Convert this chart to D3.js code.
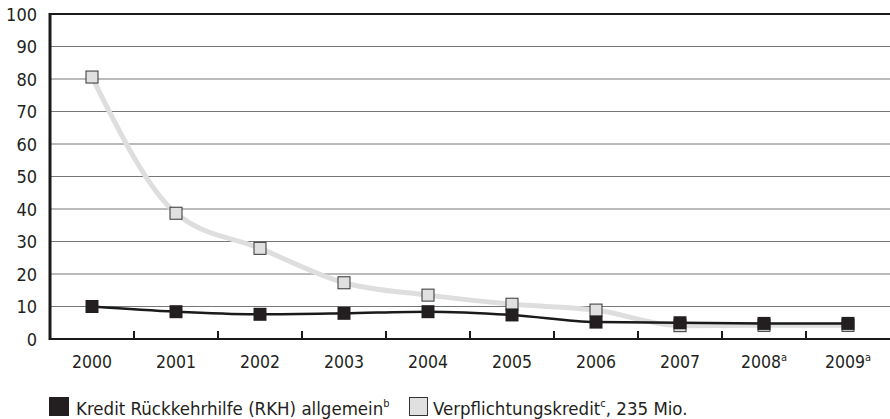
<!DOCTYPE html>
<html>
<head>
<meta charset="utf-8">
<script src="https://cdn.jsdelivr.net/npm/d3@7"></script>
<style>
  body { margin: 0; background: #fff; }
  svg text { font-family: "Liberation Sans Narrow", "DejaVu Sans Condensed", "Roboto Condensed", sans-serif; fill: #231f20; }
</style>
</head>
<body>
<div id="chart"></div>
<script>
// chart data
const years = ['2000', '2001', '2002', '2003', '2004', '2005', '2006', '2007', '2008', '2009'];
const yearNotes = ['', '', '', '', '', '', '', '', 'a', 'a'];
const kredit = [10, 8.4, 7.6, 7.9, 8.4, 7.4, 5.2, 5.0, 4.8, 4.8];
const verpflichtung = [80.6, 38.7, 27.9, 17.3, 13.5, 10.7, 8.9, 4.1, 4.2, 4.2];
const yTicks = [0, 10, 20, 30, 40, 50, 60, 70, 80, 90, 100];

const width = 890, height = 419;
const margin = {top: 14, right: 0, bottom: 80, left: 50};

const svg = d3.select('#chart').append('svg')
  .attr('width', width)
  .attr('height', height);

const x = d3.scaleBand()
  .domain(years)
  .range([margin.left, width - margin.right]);
const y = d3.scaleLinear()
  .domain([0, 100])
  .range([height - margin.bottom, margin.top]);

// gridlines
svg.append('g')
  .selectAll('line')
  .data(yTicks.filter(d => d > 0 && d < 100))
  .join('line')
  .attr('x1', margin.left).attr('x2', width)
  .attr('y1', d => y(d)).attr('y2', d => y(d))
  .attr('stroke', '#777')
  .attr('stroke-width', 1);

// top line
svg.append('line')
  .attr('x1', margin.left).attr('x2', width)
  .attr('y1', y(100)).attr('y2', y(100))
  .attr('stroke', '#1a1a1a').attr('stroke-width', 2);

// y axis labels
svg.append('g')
  .selectAll('text')
  .data(yTicks)
  .join('text')
  .attr('x', 37)
  .attr('y', d => y(d) + 6.5)
  .attr('text-anchor', 'end')
  .attr('font-size', 18)
  .text(d => d);

// x axis with inside ticks between categories
svg.append('line')
  .attr('x1', margin.left).attr('x2', width)
  .attr('y1', y(0)).attr('y2', y(0))
  .attr('stroke', '#1a1a1a').attr('stroke-width', 2);

svg.append('g')
  .selectAll('line')
  .data(years.slice(1))
  .join('line')
  .attr('x1', d => x(d)).attr('x2', d => x(d))
  .attr('y1', y(0)).attr('y2', y(0) - 8)
  .attr('stroke', '#1a1a1a').attr('stroke-width', 2);

const xl = svg.append('g')
  .selectAll('text')
  .data(years)
  .join('text')
  .attr('x', d => x(d) + x.bandwidth() / 2)
  .attr('y', y(0) + 29)
  .attr('text-anchor', 'middle')
  .attr('font-size', 17.5);
xl.append('tspan').text(d => d);
xl.append('tspan')
  .attr('dy', -7)
  .attr('font-size', 11)
  .text((d, i) => yearNotes[i]);

// left axis
svg.append('line')
  .attr('x1', margin.left).attr('x2', margin.left)
  .attr('y1', y(100) - 1).attr('y2', y(0) + 1)
  .attr('stroke', '#1a1a1a').attr('stroke-width', 3);

const cx = d => x(d) + x.bandwidth() / 2;

// gray series
svg.append('path')
  .datum(verpflichtung)
  .attr('fill', 'none')
  .attr('stroke', '#dedede')
  .attr('stroke-width', 5)
  .attr('d', d3.line().curve(d3.curveMonotoneX).x((d, i) => cx(years[i])).y(d => y(d)));

svg.append('g')
  .selectAll('rect')
  .data(verpflichtung)
  .join('rect')
  .attr('x', (d, i) => cx(years[i]) - 6)
  .attr('y', d => y(d) - 6)
  .attr('width', 12).attr('height', 12)
  .attr('fill', '#e0e0e0')
  .attr('stroke', '#333')
  .attr('stroke-width', 1);

// black series
svg.append('path')
  .datum(kredit)
  .attr('fill', 'none')
  .attr('stroke', '#1a1a1a')
  .attr('stroke-width', 2.5)
  .attr('d', d3.line().curve(d3.curveMonotoneX).x((d, i) => cx(years[i])).y(d => y(d)));

svg.append('g')
  .selectAll('rect')
  .data(kredit)
  .join('rect')
  .attr('x', (d, i) => cx(years[i]) - 6.5)
  .attr('y', d => y(d) - 6.5)
  .attr('width', 13).attr('height', 13)
  .attr('fill', '#231f20');

// legend
const leg = svg.append('g');
leg.append('rect')
  .attr('x', 49).attr('y', 397).attr('width', 20).attr('height', 19)
  .attr('fill', '#231f20');
const t1 = leg.append('text').attr('x', 76).attr('y', 415).attr('font-size', 18.5);
t1.append('tspan').text('Kredit Rückkehrhilfe (RKH) allgemein');
t1.append('tspan').attr('dy', -8).attr('font-size', 11).text('b');

leg.append('rect')
  .attr('x', 409.5).attr('y', 397.5).attr('width', 18).attr('height', 18)
  .attr('fill', '#e0e0e0').attr('stroke', '#333').attr('stroke-width', 1);
const t2 = leg.append('text').attr('x', 433).attr('y', 415).attr('font-size', 18.5);
t2.append('tspan').text('Verpflichtungskredit');
t2.append('tspan').attr('dy', -8).attr('font-size', 11).text('c');
t2.append('tspan').attr('dy', 8).text(', 235 Mio.');
</script>
</body>
</html>
